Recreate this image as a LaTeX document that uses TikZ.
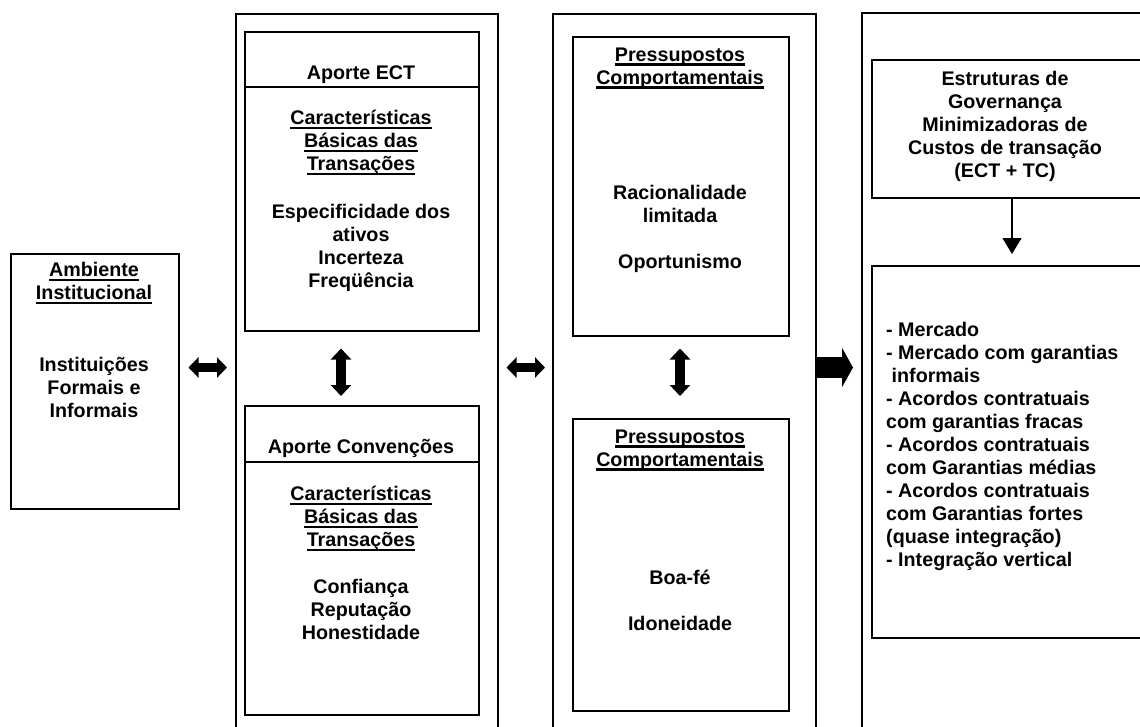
\documentclass[tikz,border=0pt]{standalone}
\usepackage{fontspec}
\setmainfont{Liberation Sans}
\usetikzlibrary{arrows.meta}
% underline with a fixed offset below the baseline
\newcommand{\uln}[1]{\leavevmode\setbox0=\hbox{#1}\rlap{\copy0}\rule[-4.5pt]{\wd0}{2.2pt}}
\begin{document}
\begin{tikzpicture}[x=1pt,y=-1pt,
  frame/.style={draw, line width=1.5pt, rectangle, inner sep=0pt, anchor=north west},
  txt/.style={align=center, inner sep=0pt, yshift=-1.5pt, font=\fontsize{19.7}{23}\selectfont\bfseries},
  txtl/.style={align=left, inner sep=0pt, anchor=west, yshift=-1.5pt, font=\fontsize{19.7}{23}\selectfont\bfseries},
  hdbl/.style={line width=9pt, {Triangle[length=10pt,width=20pt]}-{Triangle[length=10pt,width=20pt]}},
  vdbl/.style={line width=10pt, {Triangle[length=11pt,width=20pt]}-{Triangle[length=11pt,width=20pt]}},
  bigarrow/.style={line width=21pt, -{Triangle[length=11pt,width=39pt]}},
  thinarrow/.style={line width=1.3pt, -{Triangle[length=16pt,width=19pt]}}
]
\useasboundingbox (0,0) rectangle (1140,726);
\fill[white] (0,0) rectangle (1140,726);
\clip (0,0) rectangle (1140,726);

% columns (open at the bottom and right)
\node[frame, minimum width=262pt, minimum height=760pt] (col2) at (235,13) {};
\node[frame, minimum width=263pt, minimum height=760pt] (col3) at (552,13) {};
\node[frame, minimum width=330pt, minimum height=760pt] (col4) at (861,12) {};

% boxes
\node[frame, minimum width=168pt, minimum height=255pt] (amb) at (10,253) {};
\node[frame, minimum width=234pt, minimum height=299pt] (ect) at (244,31) {};
\node[frame, minimum width=234pt, minimum height=309pt] (conv) at (244,405) {};
\node[frame, minimum width=216pt, minimum height=299pt] (pc1) at (572,36) {};
\node[frame, minimum width=216pt, minimum height=292pt] (pc2) at (572,418) {};
\node[frame, minimum width=300pt, minimum height=138pt] (gov) at (871,59) {};
\node[frame, minimum width=300pt, minimum height=372pt] (opts) at (871,265) {};

% header dividers
\draw[line width=1.5pt] (ect.west |- 0,87) -- (ect.east |- 0,87);
\draw[line width=1.5pt] (conv.west |- 0,462) -- (conv.east |- 0,462);

% texts
\node[txt] (ambT) at (94,281.5) {\uln{Ambiente}\\\uln{Institucional}};
\node[txt] (ambB) at (94,386) {Instituições\\Formais e\\Informais};

\node[txt] (ectT) at (361,73) {Aporte ECT};
\node[txt] (ectC) at (361,141.5) {\uln{Características}\\\uln{Básicas das}\\\uln{Transações}};
\node[txt] (ectB) at (361,246.5) {Especificidade dos\\ativos\\Incerteza\\Freqüência};

\node[txt] (convT) at (361,447) {Aporte Convenções};
\node[txt] (convC) at (361,517) {\uln{Características}\\\uln{Básicas das}\\\uln{Transações}};
\node[txt] (convB) at (361,607.5) {Confiança\\Reputação\\Honestidade};

\node[txt] (pc1T) at (680,66.5) {\uln{Pressupostos}\\\uln{Comportamentais}};
\node[txt] (pc1B) at (680,227.5) {Racionalidade\\limitada\\[23pt]Oportunismo};

\node[txt] (pc2T) at (680,448.5) {\uln{Pressupostos}\\\uln{Comportamentais}};
\node[txt] (pc2B) at (680,598.5) {Boa-fé\\[23pt]Idoneidade};

\node[txt] (govT) at (1005,125) {Estruturas de\\Governança\\Minimizadoras de\\Custos de transação\\(ECT + TC)};

\node[txtl] (optsT) at (886,445) {- Mercado\\- Mercado com garantias\\\hspace{5.5pt}informais\\- Acordos contratuais\\com garantias fracas\\- Acordos contratuais\\com Garantias médias\\- Acordos contratuais\\com Garantias fortes\\(quase integração)\\- Integração vertical};

% connectors
\coordinate (lvl) at (0,367.5);
\coordinate (v1) at (341,0);
\coordinate (v2) at (680,0);
\coordinate (dx) at (1012,0);
\draw[hdbl, shorten <=9pt, shorten >=8pt] (amb.east |- lvl) -- (col2.west |- lvl);
\draw[hdbl, shorten <=8pt, shorten >=7pt] (col2.east |- lvl) -- (col3.west |- lvl);
\draw[bigarrow, shorten >=8pt] (col3.east |- lvl) -- (col4.west |- lvl);
\draw[vdbl, shorten <=17pt, shorten >=9pt] (ect.south -| v1) -- (conv.north -| v1);
\draw[vdbl, shorten <=12pt, shorten >=22pt] (pc1.south -| v2) -- (pc2.north -| v2);
\draw[thinarrow, shorten >=11pt] (gov.south -| dx) -- (opts.north -| dx);
\end{tikzpicture}
\end{document}
